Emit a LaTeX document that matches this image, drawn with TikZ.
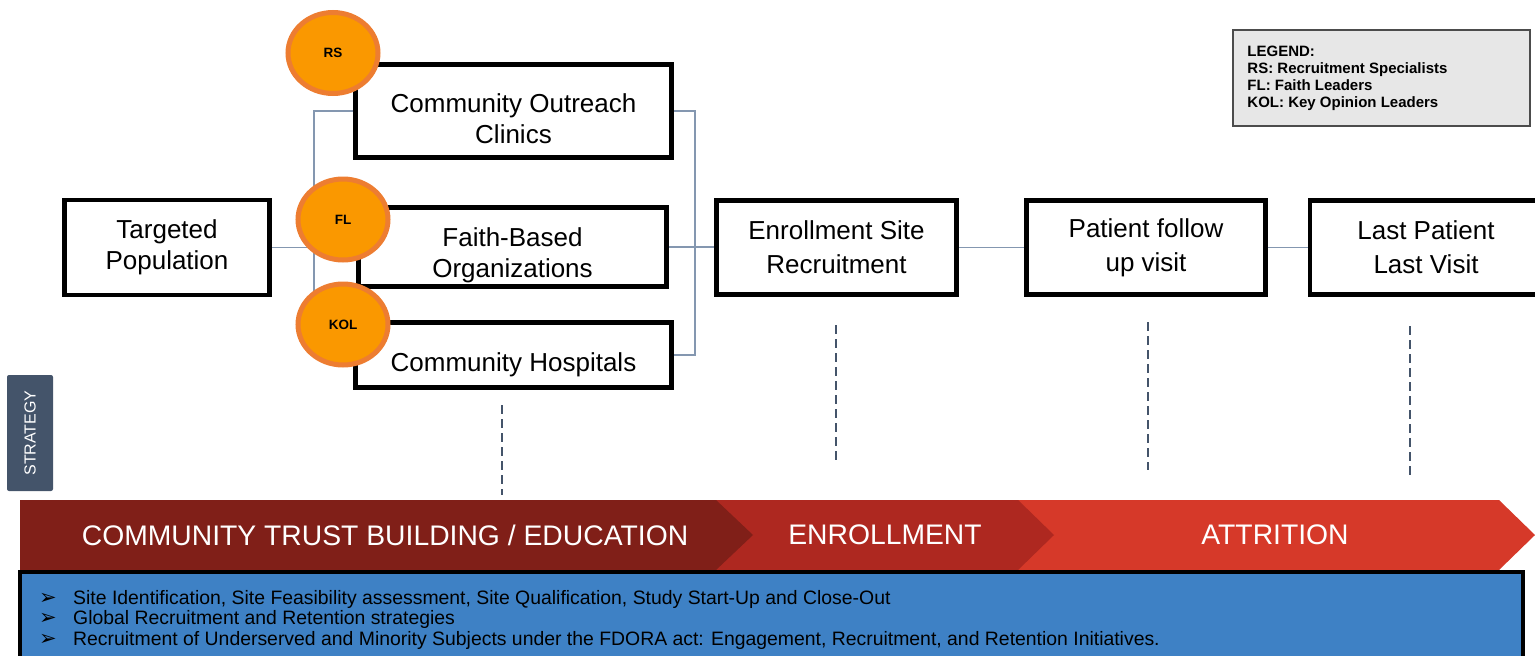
\documentclass[tikz,border=0pt]{standalone}
\usepackage{fontspec}
\setmainfont{Liberation Sans}
\newfontfamily\symfont{DejaVu Sans}
\usepackage{tikz}
\usetikzlibrary{calc,positioning,shapes.geometric}
\definecolor{linkgray}{RGB}{132,151,176}
\definecolor{slate}{RGB}{68,84,106}
\definecolor{ringorange}{RGB}{237,125,49}
\definecolor{dotorange}{RGB}{250,152,0}
\definecolor{legendgray}{RGB}{231,231,231}
\definecolor{phaseA}{RGB}{128,31,24}
\definecolor{phaseB}{RGB}{174,40,32}
\definecolor{phaseC}{RGB}{214,57,41}
\definecolor{infoblue}{RGB}{62,129,197}
\tikzset{
box/.style={draw, line width=4.5pt, fill=white, align=center, font=\fontsize{26}{31}\selectfont}, % black framed boxes
tallbox/.style={box, font=\fontsize{26}{34}\selectfont}, % boxes on the time line
lead/.style={ellipse, draw=ringorange, line width=5pt, fill=dotorange, minimum width=90pt, minimum height=81pt, font=\bfseries\fontsize{13.5}{13.5}\selectfont}, % orange role markers
link/.style={draw=linkgray, line width=1.5pt}, % thin connectors
guide/.style={draw=slate, line width=1.2pt, dash pattern=on 9pt off 5pt}, % dashed guides
phase/.style={text=white, font=\fontsize{28.3}{28.3}\selectfont}, % chevron labels
}
\newcommand{\bulletmark}{\makebox[34pt][l]{\symfont\fontsize{21}{15}\selectfont ➢}}
\newcommand{\lowerby}[1]{\rule{0pt}{#1}}

\begin{document}
\begin{tikzpicture}[x=1pt,y=-1pt]
   \useasboundingbox (0,0) rectangle (1535,656);
   % boxes
   \node[box, minimum width=205pt, minimum height=95pt] (tp) at (167,247.5) {Targeted\\Population};
   \node[box, minimum width=316pt, minimum height=93pt] (coc) at (513.5,111) {\lowerby{35pt}Community Outreach\\Clinics};
   \node[box, minimum width=308pt, minimum height=77pt] (fbo) at (512.5,247) {\lowerby{36pt}Faith-Based\\Organizations};
   \node[box, minimum width=316pt, minimum height=65pt] (ch) at (513.5,355) {\lowerby{38pt}Community Hospitals};
   \node[tallbox, minimum width=240pt, minimum height=94pt] (esr) at (836.5,247.5) {Enrollment Site\\Recruitment};
   \node[tallbox, minimum width=239pt, minimum height=94pt] (pfv) at (1146,247.5) {Patient follow\\up visit};
   \node[tallbox, minimum width=232pt, minimum height=94pt] (lplv) at (1426,247.5) {Last Patient\\Last Visit};
   % connectors
   \coordinate (joinL) at (314,248);
   \coordinate (joinR) at (695,248);
   \path[link] (tp.east) -- (tp.east -| fbo.west);
   \path[link] (coc.west) -| (joinL) |- (ch.west);
   \path[link] (coc.east) -| (joinR) |- (ch.east);
   \path[link] (fbo.east) -- (fbo.east -| esr.west);
   \path[link] (esr) -- (pfv);
   \path[link] (pfv) -- (lplv);
   % role markers
   \node[lead] (rs) at (333,53) {RS};
   \node[lead] (fl) at (343,219.5) {FL};
   \node[lead] (kol) at (343,324.5) {KOL};
   % legend
   \node[draw=black!70, line width=1.5pt, fill=legendgray, minimum width=297pt, minimum height=96pt] (legend) at (1381.5,78) {};
   \node[anchor=north west, inner sep=0pt, align=left, font=\bfseries\fontsize{15}{16.8}\selectfont] (legendtext) at ([xshift=15pt,yshift=-17pt]legend.north west) {LEGEND:\\RS: Recruitment Specialists\\FL: Faith Leaders\\KOL: Key Opinion Leaders};
   % dashed guides
   \coordinate (g1) at (502,405);  \coordinate (h1) at (502,495);
   \coordinate (g2) at (836,325);  \coordinate (h2) at (836,462);
   \coordinate (g3) at (1148,322); \coordinate (h3) at (1148,470);
   \coordinate (g4) at (1410,326); \coordinate (h4) at (1410,475);
   \path[guide] (g1) -- (h1);
   \path[guide] (g2) -- (h2);
   \path[guide] (g3) -- (h3);
   \path[guide] (g4) -- (h4);
   % strategy tab
   \node[fill=slate, rounded corners=2pt, minimum width=46pt, minimum height=116pt] (tab) at (30,433) {};
   \node[rotate=90, text=white, font=\fontsize{16}{16}\selectfont] (tablabel) at (tab) {STRATEGY};
   % phase chevrons
   \fill[phaseC] (1000,500) -- (1499,500) -- (1535,535) -- (1499,570) -- (1000,570) -- cycle;
   \fill[phaseB] (700,500) -- (1018,500) -- (1054,535) -- (1018,570) -- (700,570) -- cycle;
   \fill[phaseA] (20,500) -- (716,500) -- (753,535) -- (716,570) -- (20,570) -- cycle;
   \node[phase] (trust) at (385,535) {COMMUNITY TRUST BUILDING / EDUCATION};
   \node[phase] (enroll) at (885,535) {ENROLLMENT};
   \node[phase] (attr) at (1275,535) {ATTRITION};
   % activities
   \draw[line width=4pt, fill=infoblue] (20,572) rectangle (1523,670);
   \node[anchor=north west, inner sep=0pt, align=left, font=\fontsize{19.4}{20.5}\selectfont] (steps) at (39,590) {%
      \bulletmark Site Identification, Site Feasibility assessment, Site Qualification, Study Start-Up and Close-Out\\
      \bulletmark Global Recruitment and Retention strategies\\
      \bulletmark Recruitment of Underserved and Minority Subjects under the FDORA act: Engagement, Recruitment, and Retention Initiatives.};
\end{tikzpicture}
\end{document}
